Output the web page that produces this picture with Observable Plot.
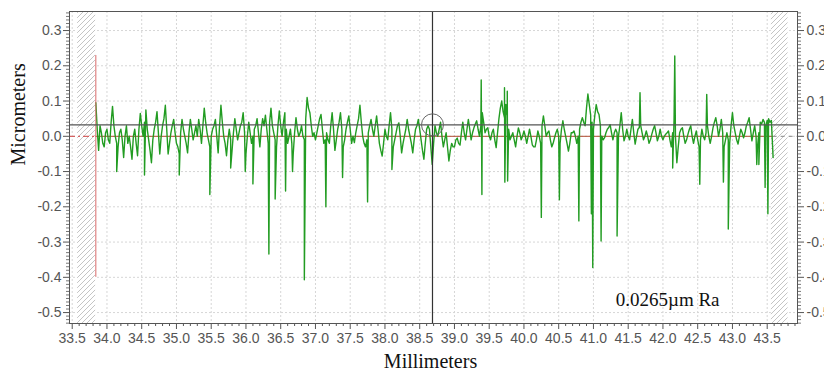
<!DOCTYPE html>
<html><head><meta charset="utf-8">
<script src="https://cdn.jsdelivr.net/npm/d3@7"></script>
<script src="https://cdn.jsdelivr.net/npm/@observablehq/plot@0.6"></script>
<style>
html,body{margin:0;padding:0;background:#fff;overflow:hidden}
#chart{width:824px;height:380px}
</style></head><body><div id="chart"></div>
<script>
// Profile (millimeters -> micrometers), sampled every 0.04 mm from 33.84 mm
const profileStart = 33.84;
const profileStep = 0.04;
const profileValues = [
  0.095,-0.04,0.01,-0.03,0.02,-0.02,0.085,0.0,-0.03,0.02,-0.06,0.03,0.0,-0.065,0.02,-0.055,0.065,0.0,0.075,-0.01,-0.075,0.02,0.07,-0.05,0.03,
  0.088,-0.05,0.01,0.048,-0.02,-0.05,0.048,0.0,-0.047,0.048,-0.01,0.03,0.048,-0.02,0.08,0.01,-0.03,0.02,0.048,-0.047,0.088,0.0,-0.055,0.02,-0.04,
  0.05,-0.01,0.03,0.067,-0.05,0.04,-0.02,0.02,0.05,-0.03,0.05,0.06,-0.02,0.08,0.01,-0.03,0.072,0.0,0.067,-0.02,0.02,-0.05,0.053,0.0,0.03,
  -0.01,0.11,0.067,0.0,-0.01,0.03,0.062,-0.02,0.01,-0.02,0.067,-0.04,0.02,0.067,-0.03,0.02,0.058,-0.02,-0.018,0.03,0.088,0.0,-0.03,0.01,0.048,
  0.0,0.058,-0.02,-0.056,0.02,-0.01,0.067,-0.03,0.01,0.038,-0.047,0.0,0.048,0.0,-0.047,0.02,0.048,-0.01,-0.065,0.02,0.02,-0.08,0.03,0.0,0.04,
  -0.03,0.01,-0.07,-0.02,-0.03,-0.005,-0.025,0.04,-0.01,0.048,-0.01,0.024,0.044,0.0,0.067,0.01,0.024,-0.01,0.02,-0.032,0.05,0.1,0.053,0.06,-0.01,
  0.01,-0.03,0.024,-0.01,0.015,-0.02,0.02,-0.024,-0.03,0.015,-0.02,0.058,0.0,0.015,-0.03,-0.004,0.02,-0.02,0.044,0.0,-0.042,0.01,0.015,-0.02,0.02,
  0.053,0.03,0.12,0.06,0.02,0.09,0.062,0.0,-0.004,0.02,0.033,-0.01,0.02,0.0,0.067,-0.013,0.02,-0.01,0.048,-0.022,0.02,0.03,-0.01,0.015,-0.02,
  0.006,0.03,-0.013,0.02,-0.01,0.006,0.015,-0.03,0.05,-0.075,0.01,0.024,-0.02,0.006,0.03,-0.02,0.015,-0.03,0.02,-0.01,0.03,-0.02,0.024,0.053,0.0,
  0.048,-0.03,0.01,-0.02,0.067,0.01,-0.022,0.02,-0.004,0.03,0.053,-0.013,0.03,-0.03,0.04,0.048,0.03,0.05,0.045
];
// In-between samples (offset by half a step) giving the fine texture of the trace
const profileMidValues = [
  0.02,0.03,-0.02,0.01,-0.01,0.04,0.03,-0.02,0.01,-0.01,0.0,-0.02,-0.03,0.0,-0.02,0.02,0.03,0.04,0.02,-0.04,-0.01,0.04,0.01,0.0,0.05,
  0.02,-0.02,0.03,0.01,-0.03,0.01,0.02,-0.02,0.01,0.02,0.01,0.0,0.02,0.03,0.04,-0.01,0.0,0.03,0.0,0.03,0.04,-0.02,-0.01,-0.01,0.01,
  0.02,0.01,0.04,0.01,0.0,0.01,0.0,0.03,0.01,0.02,0.03,0.02,0.04,0.03,-0.01,0.03,0.03,0.04,0.02,0.0,-0.02,0.01,0.02,0.01,0.0,
  0.05,0.08,0.03,0.01,0.01,0.05,0.02,-0.01,-0.01,0.03,0.02,-0.01,0.04,0.02,-0.01,0.04,0.02,0.0,0.01,0.05,0.04,-0.02,-0.01,0.03,0.02,
  0.03,0.02,-0.04,-0.02,0.0,0.03,0.02,-0.01,0.03,0.0,-0.02,0.02,0.02,-0.02,-0.01,0.03,0.02,-0.04,-0.02,0.03,-0.03,-0.02,0.01,0.02,0.0,
  -0.01,-0.03,-0.04,-0.03,-0.01,-0.02,0.01,0.01,0.02,0.02,0.01,0.035,0.02,0.03,0.04,0.02,0.0,0.01,-0.01,0.01,0.08,0.07,0.09,0.02,0.0,
  -0.01,0.0,0.01,0.0,0.0,0.0,0.0,-0.03,-0.01,0.0,0.03,0.03,0.01,-0.01,-0.02,0.01,0.0,0.02,0.02,-0.02,-0.02,0.01,0.0,0.0,0.04,
  0.04,0.08,0.09,0.04,0.06,0.07,0.03,-0.01,0.01,0.025,0.01,0.01,0.01,0.03,0.02,0.0,0.0,0.02,0.01,0.0,0.025,0.01,0.0,0.0,-0.01,
  0.02,0.01,0.0,0.0,0.0,0.01,-0.01,0.01,0.0,-0.03,0.02,0.0,-0.01,0.02,0.0,0.0,-0.01,-0.01,0.0,0.01,0.0,0.0,0.04,0.03,0.02,
  0.01,-0.01,-0.01,0.03,0.03,-0.01,0.0,0.01,0.01,0.04,0.02,0.01,0.0,0.01,0.035,0.04,0.045,0.04
];
// Narrow peaks and valleys (mm, µm)
const spikeX = [34.14,34.54,35.04,35.48,35.78,35.99,36.10,36.33,36.42,36.57,36.67,36.84,37.15,37.39,37.75,38.10,
  39.385,39.395,39.72,39.725,39.76,39.765,40.25,40.51,40.79,40.97,40.99,41.11,41.34,41.67,42.14,42.17,42.53,42.63,
  42.87,42.94,43.35,43.38,43.47,43.51,43.585];
const spikeValues = [-0.10,-0.11,-0.11,-0.165,-0.09,-0.10,-0.135,-0.334,-0.178,-0.155,-0.10,-0.407,-0.20,-0.117,-0.186,-0.094,
  0.16,-0.165,0.138,-0.13,0.128,-0.127,-0.23,-0.18,-0.24,-0.22,-0.372,-0.297,-0.283,0.124,-0.09,0.228,-0.136,0.119,
  -0.13,-0.263,-0.08,-0.08,-0.145,-0.22,-0.06];

const xTicks = [33.5,34.0,34.5,35.0,35.5,36.0,36.5,37.0,37.5,38.0,38.5,39.0,39.5,40.0,40.5,41.0,41.5,42.0,42.5,43.0,43.5];
const yTicks = [-0.5,-0.4,-0.3,-0.2,-0.1,0.0,0.1,0.2,0.3];
const xLabel = "Millimeters";
const yLabel = "Micrometers";
const raLabel = "0.0265µm Ra";

const xDomain = [33.461, 43.936];
const yDomain = [-0.531, 0.354];
const dataEnd = 43.585;
const cursorX = 38.684;
const cursorLevel = 0.0325;
const markerTop = 0.229, markerBottom = -0.40;
const exclusions = [{x1: 33.578, x2: 33.837}, {x1: 43.56, x2: 43.80}];
const raPos = {x: 41.32, y: -0.463};

const profile = profileValues.map((v, i) => ({x: +(profileStart + i * profileStep).toFixed(3), y: v}))
  .concat(profileMidValues.map((v, i) => ({x: +(profileStart + (i + 0.5) * profileStep).toFixed(3), y: v})))
  .concat(spikeX.map((x, i) => ({x, y: spikeValues[i]})))
  .sort((a, b) => a.x - b.x);

const minorX = d3.range(335, 440).map(d => d / 10).filter(d => !xTicks.some(t => Math.abs(t - d) < 1e-6));
const minorY = d3.range(-53, 36).map(d => d / 100).filter(d => !yTicks.some(t => Math.abs(t - d) < 1e-6));

const tickFont = "'Liberation Sans', Arial, sans-serif";
const serif = "'Liberation Serif', 'Times New Roman', serif";

const chart = Plot.plot({
  width: 824, height: 380,
  marginLeft: 69, marginRight: 27, marginTop: 11, marginBottom: 57,
  style: {fontFamily: tickFont, background: "#fff", overflow: "visible"},
  x: {domain: xDomain},
  y: {domain: yDomain},
  marks: [
    Plot.gridX(xTicks, {stroke: "#d6d6d6", strokeOpacity: 1, strokeDasharray: "2,2"}),
    Plot.gridY(yTicks, {stroke: "#d6d6d6", strokeOpacity: 1, strokeDasharray: "2,2"}),
    Plot.rect(exclusions, {x1: "x1", x2: "x2", y1: yDomain[0], y2: yDomain[1], fill: "#fff"}),
    Plot.rect(exclusions, {x1: "x1", x2: "x2", y1: yDomain[0], y2: yDomain[1], fill: "url(#hatch)"}),
    Plot.ruleY([0], {x1: xDomain[0], x2: profileStart, stroke: "#d04040", strokeDasharray: "6,3,2,3"}),
    Plot.ruleY([0], {x1: dataEnd, x2: xDomain[1], stroke: "#888", strokeDasharray: "4,4"}),
    Plot.ruleY([0], {x1: profileStart, x2: dataEnd, stroke: "#b04a30"}),
    Plot.line(profile, {x: "x", y: "y", stroke: "#229c22", strokeWidth: 1.4}),
    Plot.ruleX([profileStart], {y1: markerBottom, y2: markerTop, stroke: "#d86a6a"}),
    Plot.ruleY([cursorLevel], {stroke: "#555", strokeWidth: 1.2}),
    Plot.ruleX([cursorX], {stroke: "#333", strokeWidth: 1.2}),
    Plot.dot([{x: cursorX, y: cursorLevel}], {x: "x", y: "y", r: 11, stroke: "#666", fill: "none", strokeWidth: 1}),
    Plot.text([raLabel], {x: raPos.x, y: raPos.y, textAnchor: "start", fontFamily: serif, fontSize: 19, fill: "#111"}),
    Plot.frame({stroke: "#555"}),
    Plot.axisX(xTicks, {tickSize: 6, tickPadding: 4, tickFormat: d => d.toFixed(1), fontSize: 14, fill: "#555", stroke: "#555", label: null}),
    Plot.axisX(minorX, {tickSize: 3, tickFormat: () => "", stroke: "#555", label: null}),
    Plot.axisY(yTicks, {anchor: "left", tickSize: 6, tickPadding: 2, tickFormat: d => d.toFixed(1), fontSize: 14, fill: "#555", stroke: "#555", label: null}),
    Plot.axisY(minorY, {anchor: "left", tickSize: 3, tickFormat: () => "", stroke: "#777", label: null}),
    Plot.axisY(yTicks, {anchor: "right", tickSize: 6, tickPadding: 3, tickFormat: d => d.toFixed(1), fontSize: 14, fill: "#555", stroke: "#555", label: null}),
    Plot.axisY(minorY, {anchor: "right", tickSize: 3, tickFormat: () => "", stroke: "#777", label: null}),
    Plot.text([xLabel], {frameAnchor: "bottom", dy: 44, dx: -3, fontFamily: serif, fontSize: 20, fill: "#111"}),
    Plot.text([yLabel], {frameAnchor: "left", dx: -51, dy: -2, rotate: -90, fontFamily: serif, fontSize: 20, fill: "#111"})
  ]
});

// hatch pattern definition
const ns = "http://www.w3.org/2000/svg";
const defs = document.createElementNS(ns, "defs");
const pat = document.createElementNS(ns, "pattern");
pat.setAttribute("id", "hatch");
pat.setAttribute("patternUnits", "userSpaceOnUse");
pat.setAttribute("width", "5");
pat.setAttribute("height", "5");
const p = document.createElementNS(ns, "path");
p.setAttribute("d", "M-1,1 L1,-1 M0,5 L5,0 M4,6 L6,4");
p.setAttribute("stroke", "#c4c4c4");
p.setAttribute("stroke-width", "1");
pat.appendChild(p);
defs.appendChild(pat);
chart.insertBefore(defs, chart.firstChild);

document.getElementById("chart").appendChild(chart);
</script>
</body></html>
